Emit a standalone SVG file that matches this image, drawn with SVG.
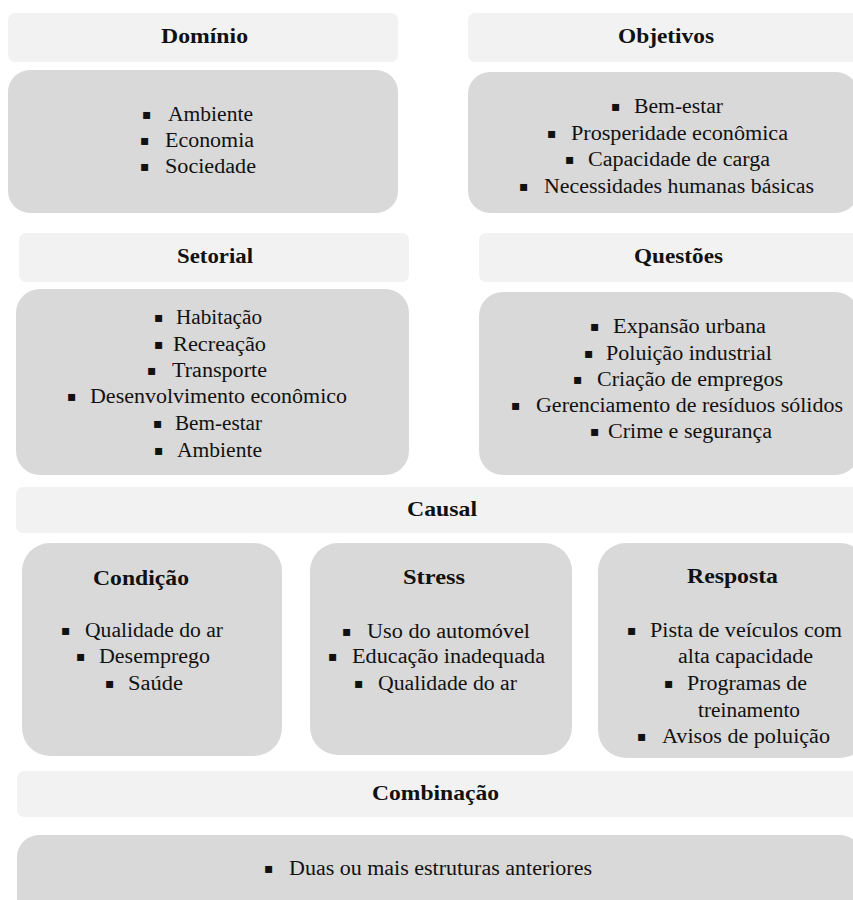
<svg xmlns="http://www.w3.org/2000/svg" width="853" height="900" viewBox="0 0 853 900">
<style>
.hdr{fill:#f2f2f2}
.body{fill:#d9d9d9}
.t{font-family:"Liberation Serif","Times New Roman",serif;fill:#111}
.h{font-size:21px;font-weight:bold}
.hb{font-size:22px;font-weight:bold}
.i{font-size:20px}
.b{font-family:"DejaVu Sans",sans-serif;font-size:14px;fill:#111}
</style>
<rect width="853" height="900" fill="#ffffff"/>
<g id="connectors"></g>

<g id="dominio">
<rect class="hdr" x="8" y="13" width="390" height="49" rx="7"/>
<text class="t h" x="161" y="43" textLength="87" lengthAdjust="spacingAndGlyphs">Domínio</text>
<rect class="body" x="8" y="70" width="390" height="143" rx="22"/>
<text class="b" x="142" y="119">▪</text><text class="t i" x="168" y="121" textLength="85" lengthAdjust="spacingAndGlyphs">Ambiente</text>
<text class="b" x="140" y="145">▪</text><text class="t i" x="165" y="147" textLength="89" lengthAdjust="spacingAndGlyphs">Economia</text>
<text class="b" x="140" y="171">▪</text><text class="t i" x="165" y="173" textLength="91" lengthAdjust="spacingAndGlyphs">Sociedade</text>
</g>

<g id="objetivos">
<rect class="hdr" x="468" y="13" width="390" height="49" rx="7"/>
<text class="t h" x="618" y="43" textLength="96" lengthAdjust="spacingAndGlyphs">Objetivos</text>
<rect class="body" x="468" y="72" width="390" height="141" rx="22"/>
<text class="b" x="611" y="111">▪</text><text class="t i" x="634" y="113" textLength="89" lengthAdjust="spacingAndGlyphs">Bem-estar</text>
<text class="b" x="547" y="138">▪</text><text class="t i" x="571" y="140" textLength="217" lengthAdjust="spacingAndGlyphs">Prosperidade econômica</text>
<text class="b" x="565" y="164">▪</text><text class="t i" x="588" y="166" textLength="182" lengthAdjust="spacingAndGlyphs">Capacidade de carga</text>
<text class="b" x="519" y="191">▪</text><text class="t i" x="544" y="193" textLength="270" lengthAdjust="spacingAndGlyphs">Necessidades humanas básicas</text>
</g>

<g id="setorial">
<rect class="hdr" x="19" y="233" width="390" height="49" rx="7"/>
<text class="t h" x="177" y="263" textLength="76" lengthAdjust="spacingAndGlyphs">Setorial</text>
<rect class="body" x="16" y="289" width="393" height="186" rx="24"/>
<text class="b" x="154" y="322">▪</text><text class="t i" x="176" y="324" textLength="86" lengthAdjust="spacingAndGlyphs">Habitação</text>
<text class="b" x="154" y="349">▪</text><text class="t i" x="173" y="351" textLength="93" lengthAdjust="spacingAndGlyphs">Recreação</text>
<text class="b" x="147" y="375">▪</text><text class="t i" x="172" y="377" textLength="95" lengthAdjust="spacingAndGlyphs">Transporte</text>
<text class="b" x="67" y="401">▪</text><text class="t i" x="90" y="403" textLength="257" lengthAdjust="spacingAndGlyphs">Desenvolvimento econômico</text>
<text class="b" x="153" y="428">▪</text><text class="t i" x="175" y="430" textLength="87" lengthAdjust="spacingAndGlyphs">Bem-estar</text>
<text class="b" x="154" y="455">▪</text><text class="t i" x="177" y="457" textLength="85" lengthAdjust="spacingAndGlyphs">Ambiente</text>
</g>

<g id="questoes">
<rect class="hdr" x="479" y="233" width="380" height="49" rx="7"/>
<text class="t h" x="634" y="263" textLength="89" lengthAdjust="spacingAndGlyphs">Questões</text>
<rect class="body" x="479" y="292" width="380" height="183" rx="24"/>
<text class="b" x="590" y="331">▪</text><text class="t i" x="613" y="333" textLength="153" lengthAdjust="spacingAndGlyphs">Expansão urbana</text>
<text class="b" x="584" y="358">▪</text><text class="t i" x="606" y="360" textLength="166" lengthAdjust="spacingAndGlyphs">Poluição industrial</text>
<text class="b" x="573" y="384">▪</text><text class="t i" x="597" y="386" textLength="186" lengthAdjust="spacingAndGlyphs">Criação de empregos</text>
<text class="b" x="511" y="410">▪</text><text class="t i" x="536" y="412" textLength="307" lengthAdjust="spacingAndGlyphs">Gerenciamento de resíduos sólidos</text>
<text class="b" x="590" y="436">▪</text><text class="t i" x="608" y="438" textLength="164" lengthAdjust="spacingAndGlyphs">Crime e segurança</text>
</g>

<g id="causal">
<rect class="hdr" x="16" y="487" width="845" height="46" rx="7"/>
<text class="t hb" x="407" y="516" textLength="70" lengthAdjust="spacingAndGlyphs">Causal</text>
</g>

<g id="condicao">
<rect class="body" x="22" y="543" width="260" height="213" rx="28"/>
<text class="t hb" x="93" y="585" textLength="96" lengthAdjust="spacingAndGlyphs">Condição</text>
<text class="b" x="61" y="635">▪</text><text class="t i" x="85" y="637" textLength="138" lengthAdjust="spacingAndGlyphs">Qualidade do ar</text>
<text class="b" x="76" y="661">▪</text><text class="t i" x="99" y="663" textLength="111" lengthAdjust="spacingAndGlyphs">Desemprego</text>
<text class="b" x="105" y="688">▪</text><text class="t i" x="128" y="690" textLength="55" lengthAdjust="spacingAndGlyphs">Saúde</text>
</g>

<g id="stress">
<rect class="body" x="310" y="543" width="262" height="212" rx="28"/>
<text class="t hb" x="403" y="584" textLength="62" lengthAdjust="spacingAndGlyphs">Stress</text>
<text class="b" x="342" y="636">▪</text><text class="t i" x="367" y="638" textLength="163" lengthAdjust="spacingAndGlyphs">Uso do automóvel</text>
<text class="b" x="328" y="661">▪</text><text class="t i" x="352" y="663" textLength="193" lengthAdjust="spacingAndGlyphs">Educação inadequada</text>
<text class="b" x="354" y="688">▪</text><text class="t i" x="378" y="690" textLength="139" lengthAdjust="spacingAndGlyphs">Qualidade do ar</text>
</g>

<g id="resposta">
<rect class="body" x="598" y="543" width="270" height="215" rx="28"/>
<text class="t hb" x="687" y="583" textLength="91" lengthAdjust="spacingAndGlyphs">Resposta</text>
<text class="b" x="627" y="635">▪</text><text class="t i" x="650" y="637" textLength="192" lengthAdjust="spacingAndGlyphs">Pista de veículos com</text>
<text class="t i" x="678" y="663" textLength="135" lengthAdjust="spacingAndGlyphs">alta capacidade</text>
<text class="b" x="664" y="688">▪</text><text class="t i" x="687" y="690" textLength="120" lengthAdjust="spacingAndGlyphs">Programas de</text>
<text class="t i" x="698" y="717" textLength="102" lengthAdjust="spacingAndGlyphs">treinamento</text>
<text class="b" x="637" y="741">▪</text><text class="t i" x="662" y="743" textLength="168" lengthAdjust="spacingAndGlyphs">Avisos de poluição</text>
</g>

<g id="combinacao">
<rect class="hdr" x="17" y="771" width="845" height="46" rx="7"/>
<text class="t hb" x="372" y="800" textLength="127" lengthAdjust="spacingAndGlyphs">Combinação</text>
<rect class="body" x="17" y="835" width="845" height="90" rx="22"/>
<text class="b" x="264" y="873">▪</text><text class="t i" x="289" y="875" textLength="303" lengthAdjust="spacingAndGlyphs">Duas ou mais estruturas anteriores</text>
</g>
</svg>
